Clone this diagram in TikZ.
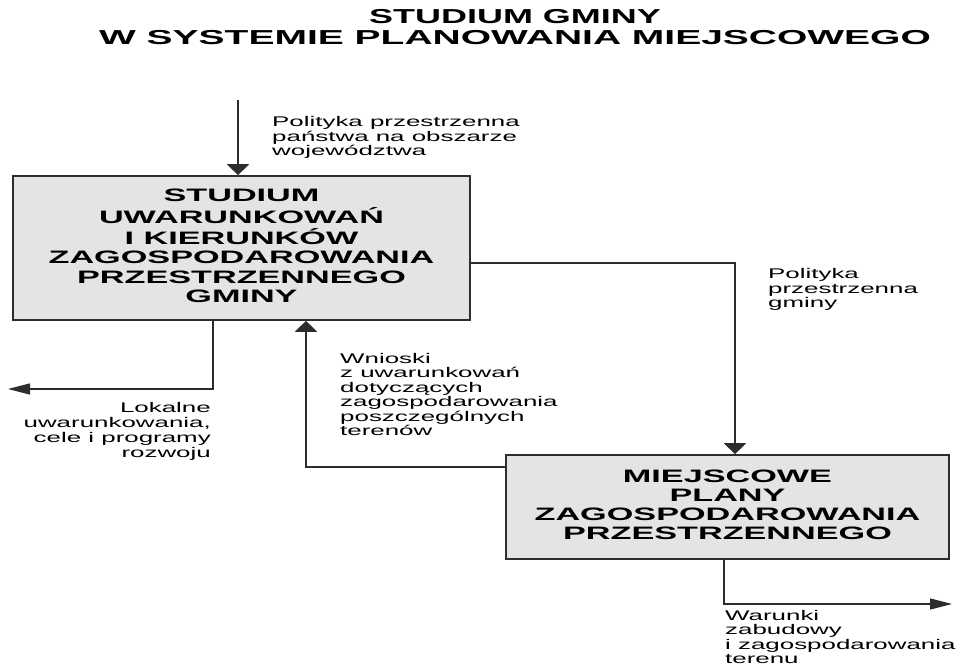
\documentclass[tikz,border=0pt]{standalone}
\usepackage{fontspec}
\setmainfont{Liberation Sans}
\usepackage{graphicx}
\usetikzlibrary{arrows.meta}
\definecolor{boxfill}{RGB}{228,228,228}
\definecolor{ink}{RGB}{45,45,45}
\newcommand\lbl[3]{\scalebox{1.85}[1]{\fontsize{14}{#1}\selectfont\begin{tabular}[t]{@{}#2@{}}#3\end{tabular}}}
\newcommand\btxt[1]{\scalebox{1.9}[1]{\fontsize{18}{19.2}\selectfont\bfseries\begin{tabular}{@{}c@{}}#1\end{tabular}}}
\begin{document}
\begin{tikzpicture}[x=1pt,y=-1pt,
  boxnode/.style={draw=ink,line width=1.6pt,fill=boxfill,inner sep=0pt,text=black},
  lab/.style={inner sep=0pt,text=black},
  conn/.style={draw=ink,line width=1.2pt},
  varr/.style={conn,-{Triangle[width=22pt,length=11pt]}},
  harr/.style={conn,-{Triangle[width=11pt,length=22pt]}}]
\useasboundingbox (0,0) rectangle (959,668);
% title
\node[lab,anchor=base] (t1) at (515,24) {\scalebox{1.78}[1]{\fontsize{20.2}{21}\selectfont\bfseries STUDIUM GMINY}};
\node[lab,anchor=base] (t2) at (515,44.5) {\scalebox{1.93}[1]{\fontsize{20.2}{21}\selectfont\bfseries W SYSTEMIE PLANOWANIA MIEJSCOWEGO}};
% boxes
\node[boxnode,minimum width=457pt,minimum height=144pt] (s) at (241.5,248)
  {\btxt{STUDIUM\\UWARUNKOWAŃ\\I KIERUNKÓW\\ZAGOSPODAROWANIA\\PRZESTRZENNEGO\\GMINY}};
\node[boxnode,minimum width=443pt,minimum height=104pt] (m) at (727.5,507)
  {\btxt{MIEJSCOWE\\PLANY\\ZAGOSPODAROWANIA\\PRZESTRZENNEGO}};
% labels
\node[lab,anchor=base west] (l1) at (272,127) {\lbl{13.8}{l}{Polityka przestrzenna\\państwa na obszarze\\województwa}};
\node[lab,anchor=base west] (l2) at (768,279) {\lbl{14.5}{l}{Polityka\\przestrzenna\\gminy}};
\node[lab,anchor=base west] (l3) at (340,363) {\lbl{14.3}{l}{Wnioski\\z uwarunkowań\\dotyczących\\zagospodarowania\\poszczególnych\\terenów}};
\node[lab,anchor=base east] (l4) at (211,413) {\lbl{14.7}{r}{Lokalne\\uwarunkowania,\\cele i programy\\rozwoju}};
\node[lab,anchor=base west] (l5) at (725,620.5) {\lbl{14.4}{l}{Warunki\\zabudowy\\i zagospodarowania\\terenu}};
% helper coordinates
\coordinate (in1) at (238,100);
\coordinate (tx) at (735,0);
\coordinate (wx) at (306,0);
\coordinate (lk) at (8,389);
\coordinate (wk) at (952,604);
% connectors
\draw[varr] (in1) -- (in1 |- s.north);
\draw[varr] ([yshift=-15pt]s.east) -| (tx |- m.north);
\draw[varr] ([yshift=40pt]m.west) -| (wx |- s.south);
\draw[harr] ([xshift=-28.5pt]s.south) |- (lk);
\draw[harr] ([xshift=-3.5pt]m.south) |- (wk);
\end{tikzpicture}
\end{document}
